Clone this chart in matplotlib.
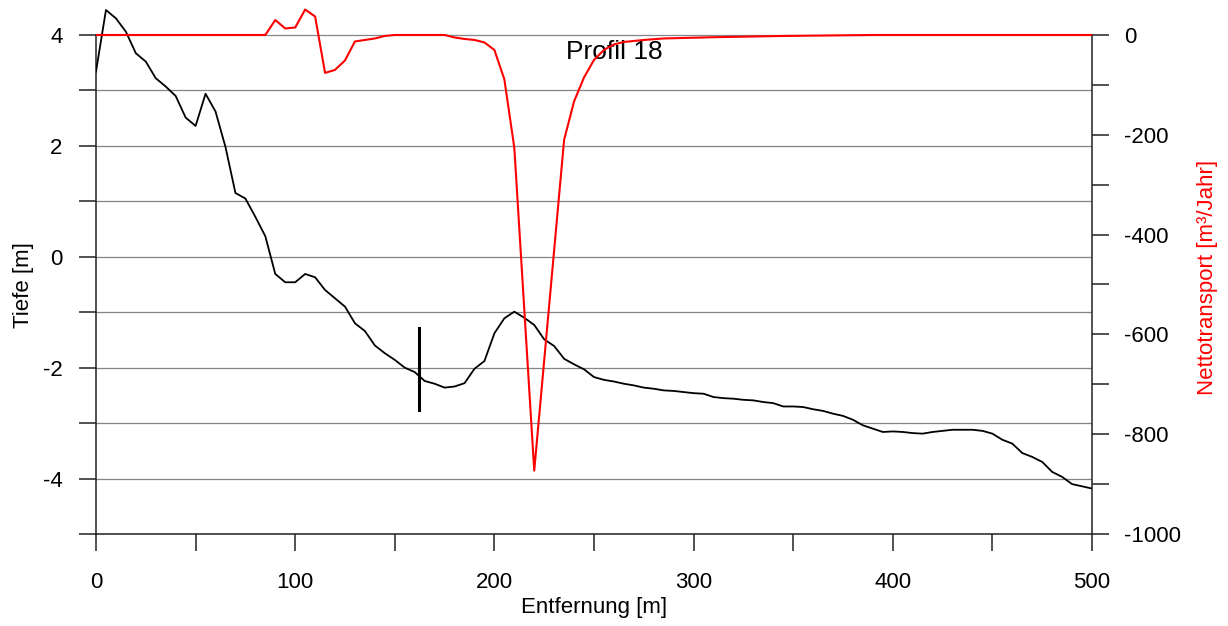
import matplotlib
matplotlib.use('Agg')
import matplotlib.pyplot as plt

plt.rcParams['font.family'] = ['Liberation Sans', 'DejaVu Sans']
plt.rcParams['axes.unicode_minus'] = False

# ---- data ----
dist = list(range(0, 505, 5))
tiefe = [3.34, 4.45, 4.30, 4.06, 3.67, 3.52, 3.22, 3.07, 2.90, 2.51,
         2.36, 2.94, 2.62, 1.98, 1.15, 1.05, 0.72, 0.37, -0.31, -0.46,
         -0.46, -0.31, -0.37, -0.60, -0.75, -0.90, -1.20, -1.34, -1.60, -1.74,
         -1.86, -2.00, -2.08, -2.24, -2.29, -2.36, -2.34, -2.28, -2.02, -1.88,
         -1.38, -1.11, -0.99, -1.10, -1.23, -1.49, -1.61, -1.84, -1.94, -2.03,
         -2.17, -2.22, -2.25, -2.29, -2.32, -2.36, -2.38, -2.41, -2.42, -2.44,
         -2.46, -2.47, -2.53, -2.55, -2.56, -2.58, -2.59, -2.62, -2.64, -2.70,
         -2.70, -2.71, -2.75, -2.78, -2.83, -2.87, -2.94, -3.04, -3.10, -3.16,
         -3.15, -3.16, -3.18, -3.19, -3.16, -3.14, -3.12, -3.12, -3.12, -3.14,
         -3.19, -3.30, -3.37, -3.54, -3.61, -3.70, -3.88, -3.97, -4.10, -4.14,
         -4.18]

trans_x = [0, 85, 90, 95, 100, 105, 110, 115, 120, 125, 130, 135, 140, 145, 150,
           175, 180, 185, 190, 195, 200, 205, 210, 220, 235, 240, 245, 250, 255,
           260, 265, 275, 285, 310, 345, 390, 500]
trans = [0, 0, 30, 13, 15, 51, 37, -76, -70, -51, -13, -10, -7, -2, 0,
         0, -5, -8, -10, -15, -30, -89, -226, -873, -210, -133, -85, -50, -30,
         -19, -14, -10, -7, -4.5, -2, 0, 0]

marker_x = [162, 162]
marker_y = [-1.29, -2.77]

title_text = 'Profil 18'
title_pos = (260, 3.69)

x_ticks = list(range(0, 501, 50))
y_ticks = list(range(-5, 5))
y2_ticks = list(range(-1000, 1, 100))

# ---- figure ----
fig = plt.figure(figsize=(12.28, 6.26), dpi=100)
ax = fig.add_axes([96 / 1228, 92 / 626, 996 / 1228, 532.3 / 626])
ax.set_xlim(0, 500)
ax.set_ylim(-5, 4.6)

ax2 = ax.twinx()
ax2.set_ylim(-1000, 66.67)

spine_col = '#222222'
for s in ['top', 'right']:
    ax.spines[s].set_visible(False)
for s in ['top', 'left', 'bottom']:
    ax2.spines[s].set_visible(False)
ax.spines['left'].set_bounds(-5, 4)
ax.spines['bottom'].set_bounds(0, 500)
ax2.spines['right'].set_bounds(-1000, 0)
for sp in [ax.spines['left'], ax.spines['bottom'], ax2.spines['right']]:
    sp.set_color(spine_col)
    sp.set_linewidth(1.1)

ax.set_xticks(x_ticks)
ax.set_xticklabels([str(v) if v % 100 == 0 else '' for v in x_ticks])
ax.set_yticks(y_ticks)
ax.set_yticklabels([str(v) if v % 2 == 0 else '' for v in y_ticks])
ax2.set_yticks(y2_ticks)
ax2.set_yticklabels([str(v) if v % 200 == 0 else '' for v in y2_ticks])

ax.tick_params(axis='y', direction='out', length=12, width=1.1, labelsize=16,
               pad=12, color=spine_col)
ax.tick_params(axis='x', direction='out', length=12, width=1.1, labelsize=16,
               pad=15, color=spine_col)
ax2.tick_params(axis='y', direction='out', length=12, width=1.1, labelsize=16,
                pad=11, color=spine_col)

ax.yaxis.grid(True, color='#858585', linewidth=0.9)
ax.set_axisbelow(True)

ax.plot(dist, tiefe, color='black', linewidth=1.3, zorder=3)
ax.plot(marker_x, marker_y, color='black', linewidth=2.2, zorder=3)
ax.text(title_pos[0], title_pos[1], title_text, ha='center', va='center',
        fontsize=19, zorder=2)

ax2.plot(trans_x, trans, color='#ff0000', linewidth=1.5, zorder=4)

fig.text(594 / 1228, 1 - 607 / 626, 'Entfernung [m]', ha='center', va='center',
         fontsize=16)
fig.text(23 / 1228, 1 - 285 / 626, 'Tiefe [m]', ha='center', va='center',
         fontsize=16, rotation=90)
fig.text(1207 / 1228, 1 - 277 / 626, 'Nettotransport [m³/Jahr]', ha='center',
         va='center', fontsize=16, rotation=90, color='#ff0000')

fig.savefig('out.png', dpi=100)
